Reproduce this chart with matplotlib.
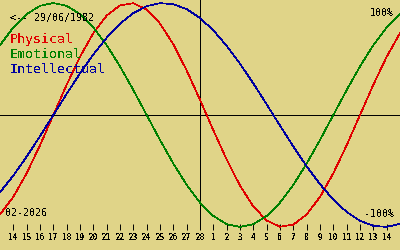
import matplotlib
matplotlib.use('Agg')
import matplotlib.pyplot as plt

# day offsets from the centre day (28 Feb 2026), one value per day
days = [-15, -14, -13, -12, -11, -10, -9, -8, -7, -6, -5, -4, -3, -2, -1, 0,
        1, 2, 3, 4, 5, 6, 7, 8, 9, 10, 11, 12, 13, 14, 15]

physical = [-0.888, -0.731, -0.520, -0.270, 0.000, 0.270, 0.520, 0.731, 0.888, 0.979,
            0.998, 0.942, 0.817, 0.631, 0.398, 0.136, -0.136, -0.398, -0.631, -0.817,
            -0.942, -0.998, -0.979, -0.888, -0.731, -0.520, -0.270, 0.000, 0.270, 0.520, 0.731]
emotional = [0.624, 0.782, 0.901, 0.975, 1.000, 0.975, 0.901, 0.782, 0.624, 0.434,
             0.223, 0.000, -0.223, -0.434, -0.624, -0.782, -0.901, -0.975, -1.000, -0.975,
             -0.901, -0.782, -0.624, -0.434, -0.223, 0.000, 0.223, 0.434, 0.624, 0.782, 0.901]
intellectual = [-0.690, -0.541, -0.372, -0.189, 0.000, 0.189, 0.372, 0.541, 0.690, 0.815,
                0.910, 0.972, 0.999, 0.990, 0.945, 0.866, 0.756, 0.618, 0.458, 0.282,
                0.095, -0.095, -0.282, -0.458, -0.618, -0.756, -0.866, -0.945, -0.990, -0.999, -0.972]

tick_days = [-14, -13, -12, -11, -10, -9, -8, -7, -6, -5, -4, -3, -2, -1, 0,
             1, 2, 3, 4, 5, 6, 7, 8, 9, 10, 11, 12, 13, 14]
tick_labels = ['14', '15', '16', '17', '18', '19', '20', '21', '22', '23', '24', '25', '26', '27', '28',
               '1', '2', '3', '4', '5', '6', '7', '8', '9', '10', '11', '12', '13', '14']

bg = '#e0d488'
red = '#e00000'
green = '#008000'
blue = '#0000a0'
mono = 'DejaVu Sans Mono'

plt.rcParams['text.antialiased'] = False

fig = plt.figure(figsize=(4, 2.5), dpi=100, facecolor=bg)
ax = fig.add_axes([0, 20 / 250, 1, 230 / 250])
ax.set_facecolor(bg)

ax.axhline(0, color='black', lw=0.7, antialiased=False)
ax.axvline(0, color='black', lw=0.7, antialiased=False)
ax.plot(days, physical, color=red, lw=0.5, antialiased=False)
ax.plot(days, emotional, color=green, lw=0.5, antialiased=False)
ax.plot(days, intellectual, color=blue, lw=0.5, antialiased=False)

ax.set_xlim(-15, 15)
ax.set_ylim(-1.027, 1.027)
for s in ax.spines.values():
    s.set_visible(False)
ax.set_yticks([])
ax.set_xticks(tick_days)
ax.set_xticklabels(tick_labels, fontfamily=mono, fontweight='bold', fontsize=5.5)
ax.tick_params(axis='x', direction='in', length=4.3, width=0.7, pad=2.5, colors='black')

def px(x, y):
    return x / 400, 1 - y / 250

fig.text(*px(10, 21), '<-- 29/06/1982', fontfamily=mono, fontsize=7.2, color='black', va='baseline')
fig.text(*px(10, 43), 'Physical', fontfamily=mono, fontsize=9.5, color=red, va='baseline')
fig.text(*px(10, 58), 'Emotional', fontfamily=mono, fontsize=9.5, color=green, va='baseline')
fig.text(*px(10, 73), 'Intellectual', fontfamily=mono, fontsize=9.5, color=blue, va='baseline')
fig.text(*px(394, 16), '100%', fontfamily=mono, fontsize=7.2, color='black', va='baseline', ha='right')
fig.text(*px(394, 217), '-100%', fontfamily=mono, fontsize=7.2, color='black', va='baseline', ha='right')
fig.text(*px(5, 216), '02-2026', fontfamily=mono, fontsize=7.2, color='black', va='baseline')

fig.savefig('out.png', dpi=100, facecolor=bg)
